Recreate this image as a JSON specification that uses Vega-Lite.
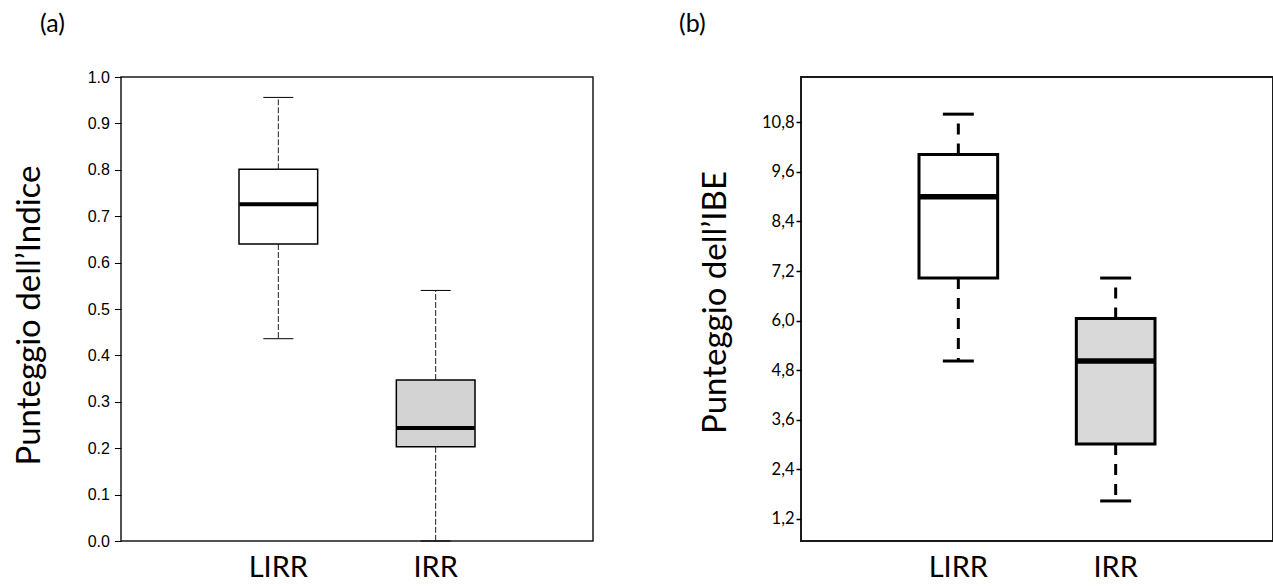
{
  "$schema": "https://vega.github.io/schema/vega-lite/v6.json",
  "padding": {"left": 12, "top": 11, "right": 0, "bottom": 0},
  "background": "white",
  "spacing": 208,
  "bounds": "flush",
  "resolve": {"scale": {"x": "independent", "y": "independent", "fill": "independent"}},
  "config": {
    "view": {"stroke": "#1a1a1a", "strokeWidth": 1.5},
    "axis": {"labelColor": "black", "titleColor": "black", "tickColor": "black", "domain": false, "grid": false, "titleFontWeight": "normal", "labelOverlap": false},
    "title": {"color": "black", "fontWeight": "normal"}
  },
  "hconcat": [
    {
      "width": 472,
      "height": 464,
      "title": {"text": "(a)", "anchor": "start", "frame": "group", "dx": -81, "offset": 32, "font": "Lato", "fontSize": 25},
      "data": {"values": [
        {"group": "LIRR", "min": 0.436, "q1": 0.640, "median": 0.726, "q3": 0.801, "max": 0.956},
        {"group": "IRR", "min": 0.0, "q1": 0.203, "median": 0.2435, "q3": 0.347, "max": 0.540}
      ]},
      "encoding": {
        "x": {"field": "group", "type": "nominal", "sort": ["LIRR", "IRR"],
          "scale": {"paddingInner": 0.5, "paddingOuter": 0.75},
          "axis": {"title": null, "labelAngle": 0, "ticks": false, "tickSize": 0, "labelPadding": 12, "labelFont": "Lato", "labelFontSize": 29}}
      },
      "layer": [
        {"mark": {"type": "rule", "strokeDash": [6, 2], "strokeWidth": 1, "color": "#222"},
         "encoding": {
           "y": {"field": "q3", "type": "quantitative", "title": "Punteggio dell’Indice",
             "scale": {"domain": [0, 1], "nice": false, "zero": false},
             "axis": {"values": [0, 0.1, 0.2, 0.3, 0.4, 0.5, 0.6, 0.7, 0.8, 0.9, 1.0], "format": ".1f", "labelFont": "Liberation Sans", "labelFontSize": 16, "tickSize": 6.6, "tickWidth": 1, "labelPadding": 5, "titleFont": "Lato", "titleFontSize": 33, "titleX": -82, "titleY": 238, "titleBaseline": "alphabetic", "titleAlign": "center"}},
           "y2": {"field": "max"}}},
        {"mark": {"type": "rule", "strokeDash": [6, 2], "strokeWidth": 1, "color": "#222"},
         "encoding": {"y": {"field": "q1", "type": "quantitative", "title": "Punteggio dell’Indice"}, "y2": {"field": "min"}}},
        {"mark": {"type": "bar", "stroke": "black", "strokeWidth": 1.5, "opacity": 1},
         "encoding": {
           "y": {"field": "q1", "type": "quantitative", "title": "Punteggio dell’Indice"},
           "y2": {"field": "q3"},
           "fill": {"field": "group", "type": "nominal", "scale": {"domain": ["LIRR", "IRR"], "range": ["#ffffff", "#d3d3d3"]}, "legend": null}}},
        {"mark": {"type": "tick", "color": "black", "thickness": 4, "size": 78, "opacity": 1},
         "encoding": {"y": {"field": "median", "type": "quantitative", "title": "Punteggio dell’Indice"}}},
        {"mark": {"type": "tick", "color": "black", "thickness": 1, "size": 30, "opacity": 1},
         "encoding": {"y": {"field": "max", "type": "quantitative", "title": "Punteggio dell’Indice"}}},
        {"mark": {"type": "tick", "color": "black", "thickness": 1, "size": 30, "opacity": 1},
         "encoding": {"y": {"field": "min", "type": "quantitative", "title": "Punteggio dell’Indice"}}}
      ]
    },
    {
      "width": 472,
      "height": 464,
      "view": {"stroke": "#1a1a1a", "strokeWidth": 2},
      "title": {"text": "(b)", "anchor": "start", "frame": "group", "dx": -122, "offset": 40, "font": "Lato", "fontSize": 25},
      "data": {"values": [
        {"group": "LIRR", "min": 5.02, "q1": 7.03, "median": 9.0, "q3": 10.02, "max": 11.0},
        {"group": "IRR", "min": 1.63, "q1": 3.01, "median": 5.02, "q3": 6.05, "max": 7.03}
      ]},
      "encoding": {
        "x": {"field": "group", "type": "nominal", "sort": ["LIRR", "IRR"],
          "scale": {"paddingInner": 0.5, "paddingOuter": 0.75},
          "axis": {"title": null, "labelAngle": 0, "ticks": false, "tickSize": 0, "labelPadding": 12, "labelFont": "Lato", "labelFontSize": 29}}
      },
      "layer": [
        {"mark": {"type": "rule", "strokeDash": [11, 9], "strokeWidth": 3, "color": "black"},
         "encoding": {
           "y": {"field": "q3", "type": "quantitative", "title": "Punteggio dell’IBE",
             "scale": {"domain": [0.66, 11.9], "nice": false, "zero": false},
             "axis": {"values": [1.2, 2.4, 3.6, 4.8, 6.0, 7.2, 8.4, 9.6, 10.8], "labelExpr": "replace(format(datum.value, '.1f'), '.', ',')", "labelFont": "Lato", "labelFontSize": 16.5, "tickSize": 5, "tickWidth": 1.5, "labelPadding": 2, "titleFont": "Lato", "titleFontSize": 33, "titleX": -76, "titleY": 225, "titleBaseline": "alphabetic", "titleAlign": "center"}},
           "y2": {"field": "max"}}},
        {"mark": {"type": "rule", "strokeDash": [11, 9], "strokeWidth": 3, "color": "black"},
         "encoding": {"y": {"field": "q1", "type": "quantitative", "title": "Punteggio dell’IBE"}, "y2": {"field": "min"}}},
        {"mark": {"type": "bar", "stroke": "black", "strokeWidth": 3, "opacity": 1},
         "encoding": {
           "y": {"field": "q1", "type": "quantitative", "title": "Punteggio dell’IBE"},
           "y2": {"field": "q3"},
           "fill": {"field": "group", "type": "nominal", "scale": {"domain": ["LIRR", "IRR"], "range": ["#ffffff", "#d9d9d9"]}, "legend": null}}},
        {"mark": {"type": "tick", "color": "black", "thickness": 5.5, "size": 80, "opacity": 1},
         "encoding": {"y": {"field": "median", "type": "quantitative", "title": "Punteggio dell’IBE"}}},
        {"mark": {"type": "tick", "color": "black", "thickness": 3, "size": 31, "opacity": 1},
         "encoding": {"y": {"field": "max", "type": "quantitative", "title": "Punteggio dell’IBE"}}},
        {"mark": {"type": "tick", "color": "black", "thickness": 3, "size": 31, "opacity": 1},
         "encoding": {"y": {"field": "min", "type": "quantitative", "title": "Punteggio dell’IBE"}}}
      ]
    }
  ]
}
